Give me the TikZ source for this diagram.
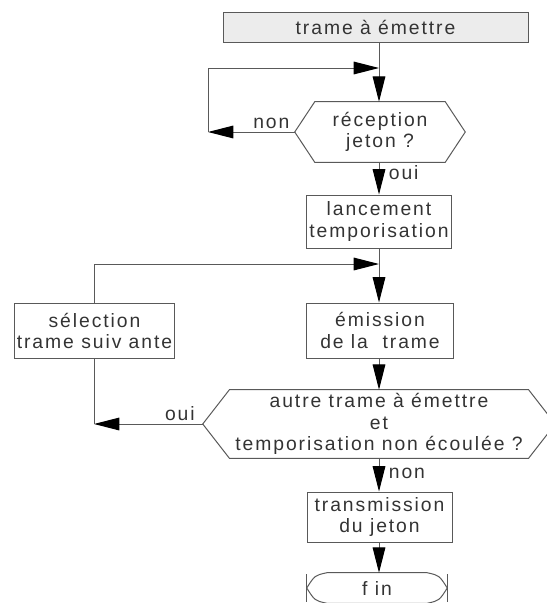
\documentclass[tikz,border=0pt]{standalone}
\usepackage{fontspec}
\setmainfont{Liberation Sans}[LetterSpace=10]
\usetikzlibrary{arrows.meta,calc}

\tikzset{
  boite/.style={draw=black!65, line width=0.75pt, align=center, inner sep=2pt},
  cadre/.style={align=center, inner sep=2pt},
  lbl/.style={inner sep=2pt, text=black!80},
  fleche/.style={draw=black!65, line width=0.75pt,
    -{Triangle[length=19pt, width=9.5pt, color=black]}},
  ligne/.style={draw=black!65, line width=0.75pt}
}

% hexagone autour d'un noeud
\newcommand{\hexagone}[2]{%
  \draw[ligne] (#1.west) -- ([xshift=#2]#1.north west) -- ([xshift=-#2]#1.north east)
    -- (#1.east) -- ([xshift=-#2]#1.south east) -- ([xshift=#2]#1.south west) -- cycle;}

\begin{document}
\begin{tikzpicture}[x=0.75pt, y=-0.75pt, font=\fontsize{14.5}{16}\selectfont, text=black!80]
  \useasboundingbox (0,0) rectangle (546,603);

  \node[boite, fill=gray!15, minimum width=228.75pt, minimum height=22.5pt] (emit) at (375.5,27) {trame à émettre};
  \node[cadre, minimum width=127.5pt, minimum height=45pt] (recep) at (380,132) {réception\\jeton ?};
  \node[boite, minimum width=107.25pt, minimum height=39.75pt] (lance) at (379,221.5) {lancement\\temporisation};
  \node[boite, minimum width=110.25pt, minimum height=41.25pt] (emis) at (380,330.5) {émission\\de la \ trame};
  \node[boite, minimum width=119.25pt, minimum height=41.25pt] (sel) at (94.5,331) {sélection\\trame suiv ante};
  \node[cadre, minimum width=264pt, minimum height=51pt] (autre) at (379,424) {autre trame à émettre\\et\\temporisation non écoulée ?};
  \node[boite, minimum width=108.75pt, minimum height=37.5pt] (trans) at (379.5,517) {transmission\\du jeton};
  \node[cadre, minimum width=105pt, minimum height=22.5pt] (fin) at (377,588) {f in};

  \hexagone{recep}{15pt}
  \hexagone{autre}{20pt}

  % terminaison
  \draw[ligne] ([xshift=15pt]fin.north west) -- ([xshift=-15pt]fin.north east)
    .. controls ([xshift=-6pt, yshift=-2pt]fin.north east) .. (fin.east)
    .. controls ([xshift=-6pt, yshift=2pt]fin.south east) .. ([xshift=-15pt]fin.south east)
    -- ([xshift=15pt]fin.south west)
    .. controls ([xshift=6pt, yshift=2pt]fin.south west) .. (fin.west)
    .. controls ([xshift=6pt, yshift=-2pt]fin.north west) .. cycle;
  \draw[ligne] ([yshift=-1pt]fin.north west) -- ([yshift=1pt]fin.south west);
  \draw[ligne] ([yshift=-1pt]fin.north east) -- ([yshift=1pt]fin.south east);

  \coordinate (j1) at (379,68);
  \coordinate (c1) at (208,132);
  \coordinate (j2) at (379,264);
  \coordinate (c2) at (94,424);

  \draw[ligne] (emit.south -| j1) -- (j1);
  \draw[fleche] (j1) -- (recep.north -| j1);
  \draw[fleche] (recep.west) -- node[lbl, pos=.27, above] {non} (c1);
  \draw[fleche] (c1) |- (j1);
  \draw[fleche] (recep.south -| j1) -- node[lbl, pos=.33, right=5pt] {oui} (lance.north);
  \draw[ligne] (lance.south) -- (j2);
  \draw[fleche] (j2) -- (emis.north -| j2);
  \draw[fleche] (emis.south -| j2) -- (autre.north);
  \draw[fleche] (autre.west) -- node[lbl, pos=.21, above] {oui} (c2);
  \draw[ligne] (c2) -- (sel.south -| c2);
  \draw[fleche] (sel.north -| c2) |- (j2);
  \draw[fleche] (autre.south) -- node[lbl, pos=.44, right=5pt] {non} (trans.north -| autre.south);
  \draw[fleche] (trans.south -| autre.south) -- (fin.north -| autre.south);
\end{tikzpicture}
\end{document}
